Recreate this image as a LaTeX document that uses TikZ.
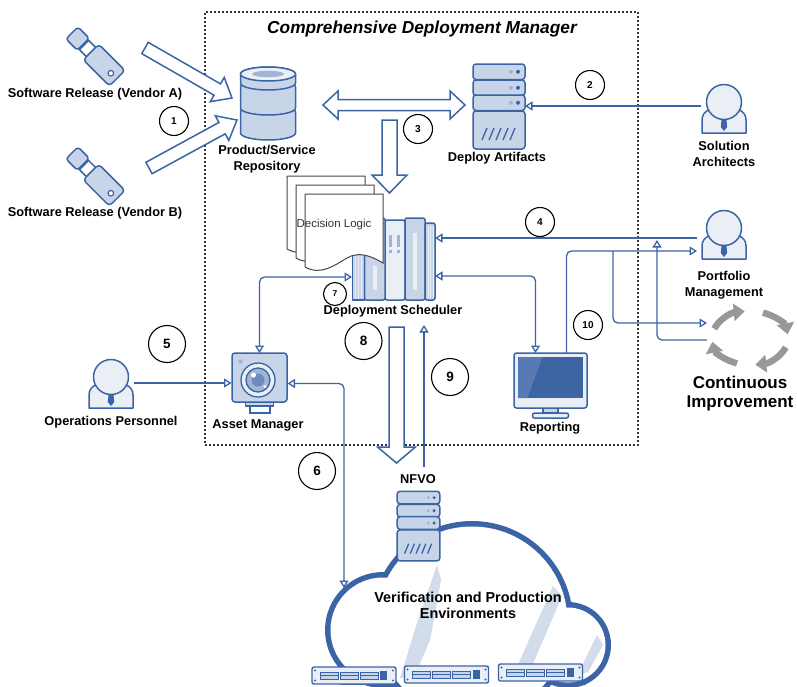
\documentclass[tikz,border=0pt]{standalone}
\usepackage{fontspec}
\setmainfont{Liberation Sans}
\usetikzlibrary{arrows.meta,calc}

\definecolor{cblue}{RGB}{59,100,166}
\definecolor{clight}{RGB}{200,213,232}
\definecolor{cpale}{RGB}{234,239,246}
\definecolor{cmid}{RGB}{160,181,214}
\definecolor{cscreen}{RGB}{61,100,163}
\definecolor{cscreenhi}{RGB}{88,122,180}
\definecolor{cgrey}{RGB}{152,152,152}
\definecolor{cstreak}{RGB}{210,220,234}
\definecolor{cpage}{RGB}{70,70,70}

\tikzset{
  icon/.style={draw=cblue, line width=1.5pt, fill=clight, line join=round},
  iconpale/.style={icon, fill=cpale},
  iconbox/.style={inner sep=0pt, outer sep=0pt},
  hollow/.style={draw=cblue, fill=white, line width=1.5pt, line join=miter},
  conn/.style={draw=cblue, line width=1.3pt, -{Triangle[length=7.5pt,width=9pt,fill=white]}},
  dconn/.style={draw=cblue, line width=1.3pt, {Triangle[length=7.5pt,width=9pt,fill=white]}-{Triangle[length=7.5pt,width=9pt,fill=white]}},
  numS/.style={circle, draw=black, line width=1.1pt, fill=white, inner sep=0pt, minimum size=29pt, font=\fontsize{10}{12}\selectfont\bfseries},
  numL/.style={numS, minimum size=37pt, font=\fontsize{13.5}{15}\selectfont\bfseries},
  lbl/.style={font=\fontsize{12.8}{15.5}\selectfont\bfseries, align=center, inner sep=0pt},
  cloudline/.style={draw=cblue, line width=11pt},
  % stacked database cylinders
  database/.pic={
    \foreach \ta/\bb in {10/31,-15/6,-28/-19}{
      \draw[icon] (-27.5,\ta) -- (-27.5,\bb) arc[start angle=180,end angle=0,x radius=27.5,y radius=7]
        -- (27.5,\ta) arc[start angle=0,end angle=-180,x radius=27.5,y radius=7] -- cycle;
    }
    \draw[iconpale] (0,-28) ellipse [x radius=27.5, y radius=7];
    \fill[cmid] (0,-28) ellipse [x radius=16, y radius=3.2];
  },
  % rack server with three units
  server/.pic={
    \draw[icon, rounded corners=3pt] (-26,4) rectangle (26,42);
    \foreach \ya in {-43,-27,-12}{
      \draw[icon, rounded corners=3pt] (-26,\ya) rectangle (26,\ya+15.5);
      \fill[cmid] (12,\ya+7.75) circle (2);
      \fill[cblue] (19,\ya+7.75) circle (2);
    }
    \foreach \i in {0,...,4} \draw[cblue, line width=1.3pt] (-17+7*\i,33) -- (-12+7*\i,21);
  },
  % binders of the scheduler
  scheduler/.pic={
    \draw[icon] (-41,-6) rectangle (-29,40);
    \foreach \xx in {-38,-35,-32} \draw[cpale, line width=0.8pt] (\xx,-4) -- (\xx,38);
    \draw[iconpale, rounded corners=2pt] (-8.5,-40) rectangle (11.5,40);
    \draw[icon, rounded corners=2pt] (-29,-42) rectangle (-8.5,40);
    \fill[cpale] (-21,6) rectangle (-17,30);
    \draw[icon, rounded corners=2pt] (11.5,-42) rectangle (31.5,40);
    \fill[cpale] (19,-27) rectangle (23,30);
    \draw[icon, rounded corners=2pt] (31.5,-37) rectangle (41.5,40);
    \foreach \xx in {34.5,37,39.5} \draw[cpale, line width=0.8pt] (\xx,-34) -- (\xx,38);
    \fill[cmid] (-5,-25) rectangle (-2,-13);
    \fill[cmid] (-5,-10) rectangle (-2,-7);
    \fill[cmid] (3,-25) rectangle (6,-13);
    \fill[cmid] (3,-10) rectangle (6,-7);
  },
  % camera on a stand
  camera/.pic={
    \draw[icon] (-14,24.5) rectangle (14,28.5);
    \draw[draw=cblue, line width=1.3pt, fill=white] (-9.5,28.5) rectangle (10.5,35.5);
    \draw[icon, rounded corners=3pt] (-27.5,-24.5) rectangle (27.5,24.5);
    \fill[cmid] (-19,-16) circle (2.2);
    \draw[draw=cblue, line width=1.3pt, fill=cpale] (-1.5,2.5) circle (17);
    \draw[draw=cblue, line width=1.3pt, fill=cmid] (-1.5,2.5) circle (12);
    \fill[cblue!75] (-1.5,2.5) circle (6.5);
    \fill[white] (-6,-2.5) circle (2.6);
    \fill[white] (5.5,9) circle (1.6);
  },
  % desktop monitor
  monitor/.pic={
    \draw[icon] (-7.5,22.5) rectangle (7.5,27.5);
    \draw[iconpale, rounded corners=2pt] (-18,27.5) rectangle (18,32.5);
    \draw[draw=cblue, line width=1.5pt, fill=cpale, rounded corners=2.5pt] (-36.5,-32.5) rectangle (36.5,22.5);
    \fill[cscreen] (-32.5,-28.5) rectangle (32.5,12.5);
    \fill[cscreenhi] (-32.5,-28.5) -- (-8,-28.5) -- (-23,12.5) -- (-32.5,12.5) -- cycle;
  },
  % usb stick, cap at negative x
  usb/.pic={
    \draw[icon, rounded corners=3pt] (-34,-8.5) rectangle (-18,8.5);
    \draw[draw=cblue, line width=1.5pt, fill=white] (-17,-6.5) rectangle (-7,6.5);
    \draw[icon, rounded corners=3.5pt] (-7,-11) rectangle (30,11);
    \draw[draw=cblue, line width=1.2pt, fill=white] (22,1) circle (2.8);
  },
  % bust with tie
  person/.pic={
    \draw[iconpale] (-22,31) -- (-22,18) .. controls (-22,8) and (-11,5) .. (0,5)
      .. controls (11,5) and (22,8) .. (22,18) -- (22,31) -- cycle;
    \fill[cblue] (-2.2,15) -- (2.2,15) -- (3.2,25) -- (0,29) -- (-3.2,25) -- cycle;
    \draw[iconpale] (0,0) circle (17.5);
  },
  % flat rack unit
  rack/.pic={
    \draw[draw=cblue, line width=1.4pt, fill=cpale, rounded corners=2pt] (-42,-8.5) rectangle (42,8.5);
    \foreach \xx in {-39,39} \foreach \yy in {-5,5} \fill[cblue] (\xx,\yy) circle (1.2);
    \foreach \xx in {-34,-14,6} {
      \draw[draw=cblue, line width=1pt, fill=clight] (\xx,-3.5) rectangle (\xx+18,4);
      \draw[cblue, line width=0.8pt] (\xx,0.25) -- (\xx+18,0.25);
    }
    \fill[cblue] (26,-4.5) rectangle (33,4.5);
  },
  % sheet with wavy lower edge
  page/.pic={
    \draw[draw=cpage, line width=1pt, fill=white] (0,0) -- (78,0) -- (78,69)
      .. controls (66,62) and (54,57) .. (42,64) .. controls (30,71) and (16,82) .. (0,73) -- cycle;
  },
  % four grey arrows in a loop
  cycle/.pic={
    \foreach \s in {200,290,20,110}
      \draw[draw=cgrey, line width=6.5pt, -{Triangle[length=11pt,width=17pt]}]
        (\s:38 and 27) arc[start angle=\s, end angle=\s+62, x radius=38, y radius=27];
  },
}

% outlined block arrow: tail, tip, shaft half width, head half width, head length
\newcommand\blockarrow[5]{%
  \coordinate (bah) at ($(#2)!#5!(#1)$);
  \draw[hollow] ($(#1)!#3!90:(#2)$) -- ($(bah)!#3!-90:(#1)$) -- ($(bah)!#4!-90:(#1)$) -- (#2)
    -- ($(bah)!#4!90:(#1)$) -- ($(bah)!#3!90:(#1)$) -- ($(#1)!#3!-90:(#2)$) -- cycle;}
% outlined block arrow with heads at both ends
\newcommand\dblockarrow[5]{%
  \coordinate (bha) at ($(#1)!#5!(#2)$);
  \coordinate (bhb) at ($(#2)!#5!(#1)$);
  \draw[hollow] (#1) -- ($(bha)!#4!90:(#2)$) -- ($(bha)!#3!90:(#2)$) -- ($(bhb)!#3!-90:(#1)$)
    -- ($(bhb)!#4!-90:(#1)$) -- (#2) -- ($(bhb)!#4!90:(#1)$) -- ($(bhb)!#3!90:(#1)$)
    -- ($(bha)!#3!-90:(#2)$) -- ($(bha)!#4!-90:(#2)$) -- cycle;}

\begin{document}
\begin{tikzpicture}[x=1pt, y=-1pt]
\useasboundingbox (0,0) rectangle (797,686);

% frame of the deployment manager
\node[draw=black!80, line width=1.2pt, dash pattern=on 2pt off 2pt, minimum width=433pt, minimum height=433pt, inner sep=0pt] (cdm) at (421.5,228.5) {};
\node[font=\fontsize{17.3}{20}\selectfont\bfseries\itshape, inner sep=0pt] (title) at (422,29) {Comprehensive Deployment Manager};

% cloud: thick outlines of the lobes, then white interiors
\draw[cloudline] (383,630) circle (52.5);
\draw[cloudline] (472,622) circle (95.5);
\draw[cloudline] (568,645) circle (37.5);
\draw[cloudline] (345,640) rectangle (580,679);
\fill[white] (383,630) circle (52.5);
\fill[white] (472,622) circle (95.5);
\fill[white] (568,645) circle (37.5);
\fill[white] (345,640) rectangle (580,679);
\fill[cstreak] (437,565) -- (441,580) -- (430,640) -- (414,678) -- (400,678) -- (418,620) -- cycle;
\fill[cstreak] (553,586) -- (562,596) -- (527,678) -- (512,678) -- cycle;
\fill[cstreak] (597,635) -- (603,645) -- (588,672) -- (577,676) -- cycle;
\node[font=\fontsize{14.4}{16}\selectfont\bfseries, align=center, inner sep=0pt] (cloudtxt) at (468,605) {Verification and Production\\Environments};
\coordinate (cloudIn) at (344,588);

% rack units along the cloud base
\node[iconbox, minimum width=84pt, minimum height=17pt] (rack1) at (354,675.5) {};
\node[iconbox, minimum width=84pt, minimum height=17pt] (rack2) at (446.5,674.5) {};
\node[iconbox, minimum width=84pt, minimum height=17pt] (rack3) at (540.5,672.5) {};
\pic at (rack1) {rack};
\pic at (rack2) {rack};
\pic at (rack3) {rack};

% icon nodes
\node[iconbox, minimum width=56pt, minimum height=56pt] (usbA) at (96,57) {};
\node[iconbox, minimum width=56pt, minimum height=56pt] (usbB) at (96,177) {};
\node[iconbox, minimum width=56pt, minimum height=76pt] (repo) at (268,102) {};
\node[iconbox, minimum width=52pt, minimum height=86pt] (art) at (499,107) {};
\node[iconbox, minimum width=46pt, minimum height=52pt] (sa) at (724,106) {};
\node[iconbox, minimum width=54pt, minimum height=50pt] (pm) at (724,238) {};
\node[iconbox, minimum width=83pt, minimum height=84pt] (sched) at (393.5,260) {};
\node[iconbox, minimum width=56pt, minimum height=61pt] (am) at (259.5,383.5) {};
\node[iconbox, minimum width=46pt, minimum height=50pt] (ops) at (111,383) {};
\node[iconbox, minimum width=73pt, minimum height=65pt] (rep) at (550.5,385.5) {};
\node[iconbox, minimum width=43pt, minimum height=69pt] (nfvo) at (418.5,526.5) {};
\node[iconbox, minimum width=86pt, minimum height=68pt] (ci) at (750,338) {};

\pic[rotate=-45] at (usbA) {usb};
\pic[rotate=-45] at (usbB) {usb};
\pic at (repo) {database};
\pic at (art) {server};
\pic at (nfvo) [scale=0.82] {server};
\pic at (724,102) {person};
\pic at (724,228) {person};
\pic at (111,377) {person};
\pic at (sched) {scheduler};
\pic at (259.5,377.5) {camera};
\pic at (rep) {monitor};
\pic at (ci) {cycle};

% decision logic sheets
\pic at (287,176) {page};
\pic at (296,185) {page};
\pic at (305,194) {page};
\node[font=\fontsize{11.5}{13}\selectfont, text=black!80, inner sep=0pt] (dl) at (334,225) {Decision Logic};

% block arrows
\coordinate (aTail) at ($(usbA)+(49,-9)$);
\coordinate (aTip) at ($(repo.west)+(-8,-4)$);
\coordinate (bTail) at ($(usbB)+(53,-9)$);
\coordinate (bTip) at ($(repo.west)+(-3,18)$);
\coordinate (dblL) at ($(repo.east)+(27,3)$);
\coordinate (dblR) at ($(art.west)+(-8,-2)$);
\coordinate (t3a) at (389.5,120);
\coordinate (t3b) at (389.5,193);
\coordinate (t8a) at (396.5,327);
\coordinate (t8b) at (396.5,463);
\blockarrow{aTail}{aTip}{6.5pt}{14pt}{17pt}
\blockarrow{bTail}{bTip}{6.5pt}{14pt}{17pt}
\dblockarrow{dblL}{dblR}{5.5pt}{14pt}{15pt}
\blockarrow{t3a}{t3b}{7.5pt}{17.5pt}{18pt}
\blockarrow{t8a}{t8b}{7.5pt}{19pt}{16pt}

% thin connectors
\draw[conn] (sa.west) -- (sa.west -| art.east);
\draw[conn] (pm.west) -- (pm.west -| sched.east);
\draw[dconn, rounded corners=5pt] ($(sched.east)+(0,16)$) -| ($(rep.north)+(-15,0)$);
\draw[conn, rounded corners=5pt] ($(rep.north)+(16,0)$) |- ($(pm.west)+(0,13)$);
\coordinate (split) at ($(pm.west)+(-84,13)$);
\draw[conn, rounded corners=5pt] (split) |- ($(ci.west)+(0,-15)$);
\draw[conn, rounded corners=5pt] ($(ci.west)+(0,2)$) -| ($(pm.west)+(-40,2)$);
\draw[dconn, rounded corners=5pt] ($(sched.west)+(0,17)$) -| (am.north);
\draw[conn] (ops.east) -- (ops.east -| am.west);
\draw[dconn, rounded corners=5pt] (cloudIn) |- (am.east);
\coordinate (n9a) at (424,467);
\coordinate (n9b) at (424,325);
\draw[conn] (n9a) -- (n9b);

% step numbers
\node[numS] (n1) at (174,121) {1};
\node[numS] (n2) at (590,85) {2};
\node[numS] (n3) at (418,129) {3};
\node[numS] (n4) at (540,222) {4};
\node[numL] (n5) at (167,344) {5};
\node[numL] (n6) at (317,471) {6};
\node[numS, minimum size=23pt, font=\fontsize{8.5}{10}\selectfont\bfseries] (n7) at (335,294) {7};
\node[numL] (n8) at (363.5,341) {8};
\node[numL] (n9) at (450,377) {9};
\node[numS] (n10) at (588,325) {10};

% labels
\node[lbl] (usbAlbl) at (95,94) {Software Release (Vendor A)};
\node[lbl] (usbBlbl) at (95,213) {Software Release (Vendor B)};
\node[lbl] (repolbl) at (267,159) {Product/Service\\Repository};
\node[lbl] (artlbl) at (497,158) {Deploy Artifacts};
\node[lbl] (salbl) at (724,154) {Solution\\Architects};
\node[lbl] (pmlbl) at (724,285) {Portfolio\\Management};
\node[lbl] (schedlbl) at (393,311) {Deployment Scheduler};
\node[lbl] (amlbl) at (258,425) {Asset Manager};
\node[lbl] (opslbl) at (111,422) {Operations Personnel};
\node[lbl] (replbl) at (550,428) {Reporting};
\node[lbl] (nfvolbl) at (418,479) {NFVO};
\node[font=\fontsize{17}{19}\selectfont\bfseries, align=center, inner sep=0pt] (cilbl) at (740,394) {Continuous\\Improvement};
\end{tikzpicture}
\end{document}
